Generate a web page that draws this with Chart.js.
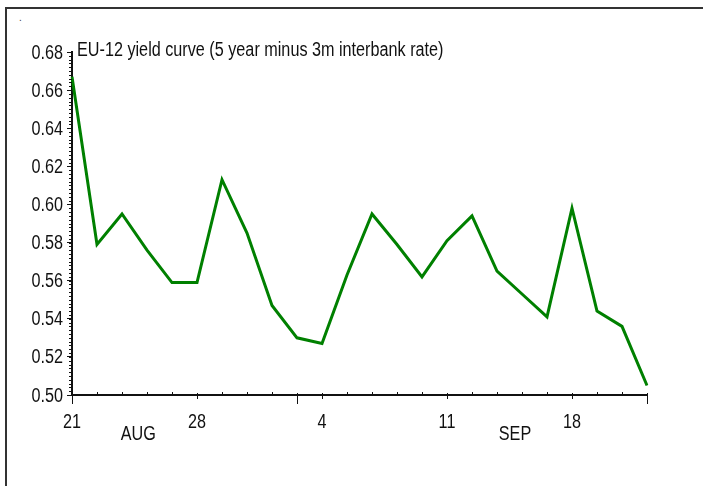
<!DOCTYPE html>
<html>
<head>
<meta charset="utf-8">
<script src="https://cdn.jsdelivr.net/npm/chart.js@4"></script>
<style>
  html, body { margin: 0; padding: 0; background: #fff; overflow: hidden; }
  #frame { position: absolute; left: 5px; top: 7px; width: 703px; height: 486px;
           border-top: 2px solid #333; border-left: 2px solid #333; }
  #dot { position: absolute; left: 19px; top: 12px; font: 10px 'Liberation Sans', sans-serif; color: #444; }
  #wrap { position: absolute; left: 0; top: 0; width: 703px; height: 486px; }
</style>
</head>
<body>
<div id="frame"></div>
<span id="dot">.</span>
<div id="wrap"><canvas id="chart" width="703" height="486"></canvas></div>
<script>
// business days, 21 Aug - 21 Sep
const days = ['Aug 21','Aug 22','Aug 23','Aug 24','Aug 25',
              'Aug 28','Aug 29','Aug 30','Aug 31','Sep 1',
              'Sep 4','Sep 5','Sep 6','Sep 7','Sep 8',
              'Sep 11','Sep 12','Sep 13','Sep 14','Sep 15',
              'Sep 18','Sep 19','Sep 20','Sep 21'];
const spread = [0.667, 0.579, 0.595, 0.576, 0.559,
                0.559, 0.613, 0.585, 0.547, 0.530,
                0.527, 0.563, 0.595, 0.579, 0.562,
                0.581, 0.594, 0.565, 0.553, 0.541,
                0.598, 0.544, 0.536, 0.505];
const labelledDays = ['Aug 21','Aug 28','Sep 4','Sep 11','Sep 18'];
const monthBreaks = ['Aug 21','Sep 1','Sep 21'];
const months = ['AUG','SEP'];
const yTicks = [0.50, 0.52, 0.54, 0.56, 0.58, 0.60, 0.62, 0.64, 0.66, 0.68];
const chartTitle = 'EU-12 yield curve (5 year minus 3m interbank rate)';

// no narrow font installed, so squeeze Liberation Sans horizontally
const FONT = "20px 'Liberation Sans', sans-serif";
const SQUEEZE = 0.81;

function narrowText(ctx, text, x, y, align, baseline) {
  ctx.save();
  ctx.translate(x, y);
  ctx.scale(SQUEEZE, 1);
  ctx.textAlign = align;
  ctx.textBaseline = baseline;
  ctx.fillText(text, 0, 0);
  ctx.restore();
}

// extra axis marks: minor ticks, month markers, labels, title
const decorations = {
  id: 'decorations',
  afterDraw(chart) {
    const ctx = chart.ctx;
    const x = chart.scales.x, y = chart.scales.y;
    const area = chart.chartArea;
    ctx.save();
    ctx.strokeStyle = '#111';
    ctx.lineWidth = 1;
    // y minor ticks every 0.002
    for (let i = 0; i <= 90; i++) {
      const py = Math.round(y.getPixelForValue(0.50 + i * 0.002)) + 0.5;
      ctx.beginPath();
      ctx.moveTo(area.left - 3, py);
      ctx.lineTo(area.left, py);
      ctx.stroke();
    }
    // x ticks
    days.forEach((d, i) => {
      const px = Math.round(x.getPixelForValue(i)) + 0.5;
      ctx.beginPath();
      if (monthBreaks.includes(d)) {
        ctx.moveTo(px, area.bottom - 2);
        ctx.lineTo(px, area.bottom + 9);
      } else if (labelledDays.includes(d)) {
        ctx.moveTo(px, area.bottom - 2);
        ctx.lineTo(px, area.bottom + 4);
      } else {
        ctx.moveTo(px, area.bottom - 3);
        ctx.lineTo(px, area.bottom);
      }
      ctx.stroke();
    });

    ctx.fillStyle = '#111';
    ctx.font = FONT;
    // y labels
    yTicks.forEach(v => {
      narrowText(ctx, v.toFixed(2), area.left - 9, y.getPixelForValue(v) + 1, 'right', 'middle');
    });
    // x labels
    days.forEach((d, i) => {
      if (labelledDays.includes(d)) {
        narrowText(ctx, d.split(' ')[1], x.getPixelForValue(i), area.bottom + 27, 'center', 'middle');
      }
    });
    // month names
    const monthPos = [2.65, 17.72];
    months.forEach((m, i) => {
      narrowText(ctx, m, x.getPixelForValue(monthPos[i]), area.bottom + 39, 'center', 'middle');
    });
    // title
    narrowText(ctx, chartTitle, area.left + 5, area.top + 4, 'left', 'alphabetic');
    ctx.restore();
  }
};

new Chart(document.getElementById('chart'), {
  type: 'line',
  data: {
    labels: days,
    datasets: [{
      data: spread,
      borderColor: '#008000',
      borderWidth: 3,
      pointRadius: 0,
      tension: 0,
      fill: false
    }]
  },
  options: {
    responsive: false,
    animation: false,
    layout: { padding: { top: 52, right: 56, bottom: 0, left: 0 } },
    plugins: { legend: { display: false }, tooltip: { enabled: false }, title: { display: false } },
    scales: {
      x: {
        type: 'category',
        offset: false,
        border: { display: true, color: '#111', width: 2 },
        grid: { display: false, drawTicks: false },
        ticks: { display: false, autoSkip: false, maxRotation: 0 },
        afterFit: s => { s.height = 91; }
      },
      y: {
        min: 0.50,
        max: 0.68,
        border: { display: true, color: '#111', width: 2 },
        grid: { drawOnChartArea: false, drawTicks: true, tickLength: 5, color: '#111' },
        afterBuildTicks: s => { s.ticks = yTicks.map(v => ({ value: v })); },
        ticks: { display: false },
        afterFit: s => { s.width = 72; }
      }
    }
  },
  plugins: [decorations]
});
</script>
</body>
</html>
